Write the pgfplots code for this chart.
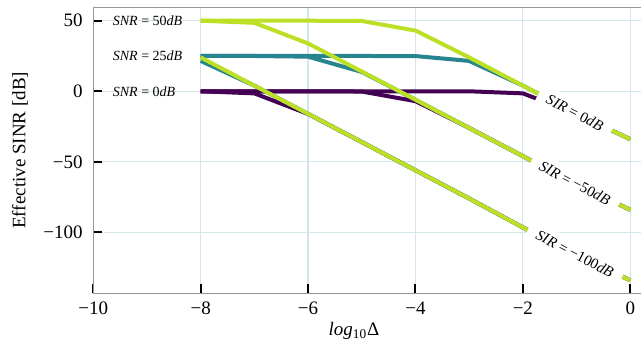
\documentclass[border=0pt]{standalone}
\usepackage{pgfplots}
\pgfplotsset{compat=1.18}
\usepackage{pgfplotstable}
\usepackage{fontspec}
\setmainfont{Liberation Serif}
\usetikzlibrary{calc}
\definecolor{vpurple}{RGB}{68,1,84}
\definecolor{vteal}{RGB}{38,133,142}
\definecolor{vyellow}{RGB}{189,223,38}
\definecolor{gridc}{RGB}{212,230,234}
\definecolor{spine}{RGB}{150,150,150}

% columns: x, SNR_SIR (SNR in 0/25/50, SIR in 0/-50/-100)
\pgfplotstableread{
x    a0    a50    a100   b0     b50    b100   c0     c50    c100
-8   0     0      0      25     25     21.5   50     50     24
-7   0     0      -1.5   25     25     4      50     48.5   4
-6   0     0      -16.1  25     24.5   -16    50     33.9   -16
-5   0     -0.2   -36    25     13.7   -36    49.8   14     -36
-4   0     -7     -56    24.95  -6     -56    43     -6     -56
-3   -0.02 -26    -76    21.5   -26    -76    24     -26    -76
-2   -1.5  -46    -96.5  4      -46    -96.5  4      -46    -96.5
-1   -16   -66    -116   -16    -66    -116   -16    -66    -116
0    -34   -84    -134   -34    -84    -134   -34    -84    -134
}\data

\begin{document}
\fontsize{9.5}{11}\selectfont
\begin{tikzpicture}
\begin{axis}[
  scale only axis, width=273.85pt, height=143pt,
  xmin=-10, xmax=0.2, ymin=-143.2, ymax=59.5,
  axis x line=box, axis y line=left,
  every outer x axis line/.append style={-},
  every outer y axis line/.append style={-},
  x axis line style={-}, y axis line style={-},
  axis line style={draw=spine, line width=0.6pt},
  xtick={-10,-8,-6,-4,-2,0},
  xticklabels={−10,−8,−6,−4,−2,0},
  ytick={-100,-50,0,50},
  yticklabels={−100,−50,0,50},
  xtick pos=bottom, ytick pos=left,
  tick align=inside,
  major tick length=4.5pt,
  tick style={black, line width=1pt},
  grid=major,
  grid style={gridc, line width=0.6pt},
  yticklabel style={xshift=-2pt},
  xticklabel style={yshift=-1pt},
  xlabel={\textit{log}\textsubscript{10}Δ},
  ylabel={Effective SINR [dB]},
  xlabel style={at={(axis description cs:0.476,-0.132)},anchor=center},
  ylabel style={at={(axis description cs:-0.134,0.5)},anchor=center},
  every axis plot/.append style={line width=2pt, line cap=butt, line join=round},
]
\addplot[vpurple] table[x=x,y=a0]{\data};
\addplot[vpurple] table[x=x,y=a50]{\data};
\addplot[vpurple] table[x=x,y=a100]{\data};
\addplot[vteal] table[x=x,y=b0]{\data};
\addplot[vteal] table[x=x,y=b50]{\data};
\addplot[vteal] table[x=x,y=b100]{\data};
\addplot[vyellow] table[x=x,y=c0]{\data};
\addplot[vyellow] table[x=x,y=c50]{\data};
\addplot[vyellow] table[x=x,y=c100]{\data};

\node[anchor=west, inner sep=1pt, font=\fontsize{7}{8}\selectfont] at (axis cs:-9.68,50) {\textit{SNR} = 50\textit{dB}};
\node[anchor=west, inner sep=1pt, font=\fontsize{7}{8}\selectfont] at (axis cs:-9.68,25) {\textit{SNR} = 25\textit{dB}};
\node[anchor=west, inner sep=1pt, font=\fontsize{7}{8}\selectfont] at (axis cs:-9.68,0) {\textit{SNR} = 0\textit{dB}};

\node[fill=white, rotate=-27.7, inner xsep=5pt, inner ysep=3pt, font=\fontsize{7.5}{9}\selectfont] at (axis cs:-1.03,-15) {\textit{SIR} = 0\textit{dB}};
\node[fill=white, rotate=-27.7, inner xsep=5pt, inner ysep=3pt, font=\fontsize{7.5}{9}\selectfont] at (axis cs:-1.03,-65) {\textit{SIR} = −50\textit{dB}};
\node[fill=white, rotate=-27.7, inner xsep=5pt, inner ysep=3pt, font=\fontsize{7.5}{9}\selectfont] at (axis cs:-1.03,-115) {\textit{SIR} = −100\textit{dB}};
\end{axis}
\pgfresetboundingbox
\path[use as bounding box] ($(current axis.south west)+(-46.65pt,-25.85pt)$) rectangle ($(current axis.north east)+(0,3.65pt)$);
\end{tikzpicture}
\end{document}
